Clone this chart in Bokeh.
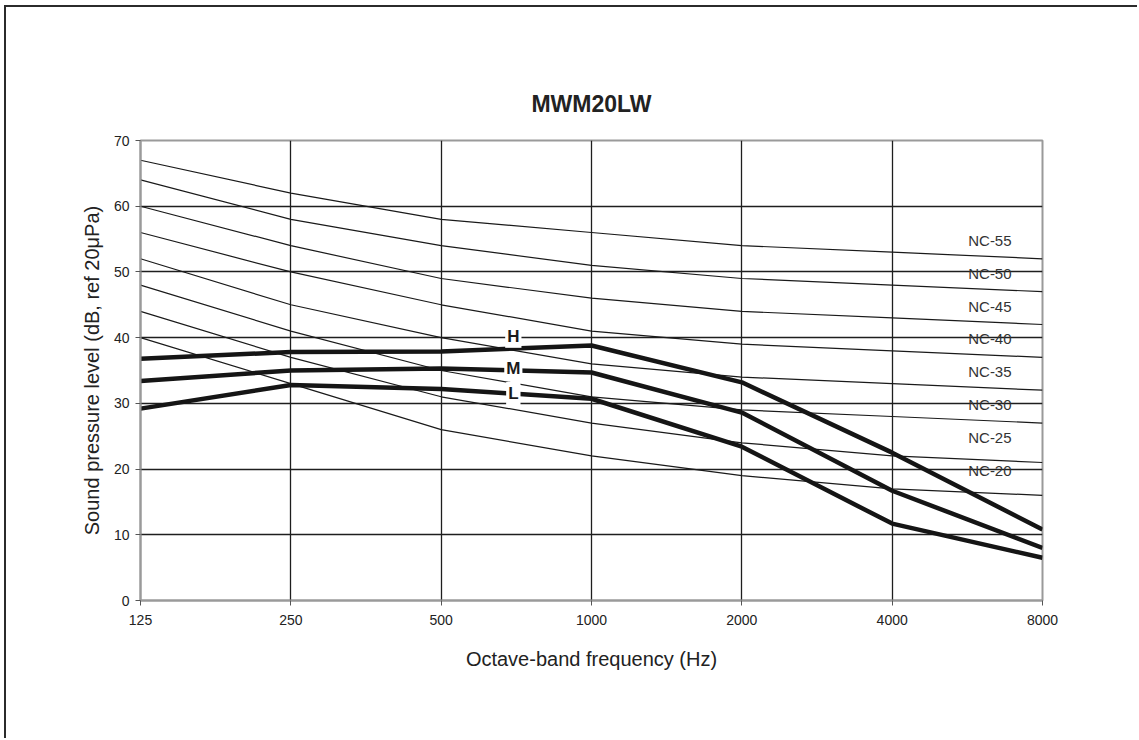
from bokeh.plotting import figure
from bokeh.models import FixedTicker, BasicTickFormatter, Range1d, Label, Title, ColumnDataSource
from bokeh.core.properties import value
from bokeh.embed import file_html
from bokeh.resources import INLINE

# ---- data ----
freqs = [125, 250, 500, 1000, 2000, 4000, 8000]
nc_names = ["NC-55", "NC-50", "NC-45", "NC-40", "NC-35", "NC-30", "NC-25", "NC-20"]
nc_55 = [67, 62, 58, 56, 54, 53, 52]
nc_50 = [64, 58, 54, 51, 49, 48, 47]
nc_45 = [60, 54, 49, 46, 44, 43, 42]
nc_40 = [56, 50, 45, 41, 39, 38, 37]
nc_35 = [52, 45, 40, 36, 34, 33, 32]
nc_30 = [48, 41, 35, 31, 29, 28, 27]
nc_25 = [44, 37, 31, 27, 24, 22, 21]
nc_20 = [40, 33, 26, 22, 19, 17, 16]
speed_names = ["H", "M", "L"]
level_h = [36.8, 37.8, 37.9, 38.8, 33.2, 22.5, 10.8]
level_m = [33.4, 35.0, 35.3, 34.7, 28.6, 16.7, 8.0]
level_l = [29.2, 32.8, 32.2, 30.7, 23.4, 11.7, 6.5]
y_ticks = [0, 10, 20, 30, 40, 50, 60, 70]

nc_curves = [nc_55, nc_50, nc_45, nc_40, nc_35, nc_30, nc_25, nc_20]
speed_curves = [level_h, level_m, level_l]

FONT = "Liberation Sans"

p = figure(width=1133, height=733, output_backend="svg", toolbar_location=None,
           x_axis_type="log", x_range=Range1d(125, 8000), y_range=Range1d(0, 70),
           min_border_left=134, min_border_right=97, min_border_top=133, min_border_bottom=140,
           title=None)
p.styles = {"margin-left": "4px", "margin-top": "5px",
            "border-top": "2px solid #2b2b2b", "border-left": "2px solid #2b2b2b"}

p.add_layout(Title(text="MWM20LW", align="center", text_font=FONT, text_font_size="23px",
                   text_font_style="bold", text_color="#222222", standoff=48), "above")

p.outline_line_color = "#9a9a9a"
p.outline_line_width = 2
p.background_fill_color = "white"
p.border_fill_color = "white"

# axes
p.xaxis.ticker = FixedTicker(ticks=freqs)
p.xaxis.formatter = BasicTickFormatter(use_scientific=False)
p.yaxis.ticker = FixedTicker(ticks=y_ticks)
for ax in (p.xaxis, p.yaxis):
    ax.axis_line_color = "#9a9a9a"
    ax.axis_line_width = 2
    ax.major_tick_line_color = "#555555"
    ax.major_tick_out = 5
    ax.major_tick_in = 0
    ax.minor_tick_line_color = None
    ax.major_label_text_font = FONT
    ax.major_label_text_font_size = "14px"
    ax.major_label_text_color = "#222222"
    ax.axis_label_text_font = FONT
    ax.axis_label_text_font_size = "20px"
    ax.axis_label_text_font_style = "normal"
    ax.axis_label_text_color = "#222222"
p.xaxis.axis_label = "Octave-band frequency (Hz)"
p.yaxis.axis_label = "Sound pressure level (dB, ref 20\u03bcPa)"
p.xaxis.major_label_standoff = 9
p.xaxis.axis_label_standoff = 20
p.yaxis.major_label_standoff = 6
p.yaxis.axis_label_standoff = 8

# grid
p.xgrid.grid_line_color = "#1e1e1e"
p.xgrid.grid_line_width = 1.3
p.ygrid.grid_line_color = "#1e1e1e"
p.ygrid.grid_line_width = 1.6

# NC curves
for vals in nc_curves:
    p.line(freqs, vals, line_color="#1a1a1a", line_width=1.2)

# NC labels
nc_label_x = 8000 / 2 ** 0.35
nc_levels = [int(n.split("-")[1]) for n in nc_names]
src = ColumnDataSource(dict(x=[nc_label_x] * len(nc_names), y=[v - 0.2 for v in nc_levels], t=nc_names))
p.text(x="x", y="y", text="t", source=src, text_align="center", text_baseline="middle",
       text_font=value(FONT), text_font_size="15px", text_color="#333333")

# fan speed curves
for vals in speed_curves:
    p.line(freqs, vals, line_color="#151515", line_width=4.5, line_join="round")

label_x = 125 * 2 ** 2.48
label_y = [40.2, 35.3, 31.5]
for name, ly in zip(speed_names, label_y):
    p.add_layout(Label(x=label_x, y=ly, text=name, text_align="center", text_baseline="middle",
                       text_font=FONT, text_font_size="17px", text_font_style="bold",
                       text_color="#1a1a1a", background_fill_color="white", padding=2))

open("out.html", "w").write(file_html(p, INLINE))
